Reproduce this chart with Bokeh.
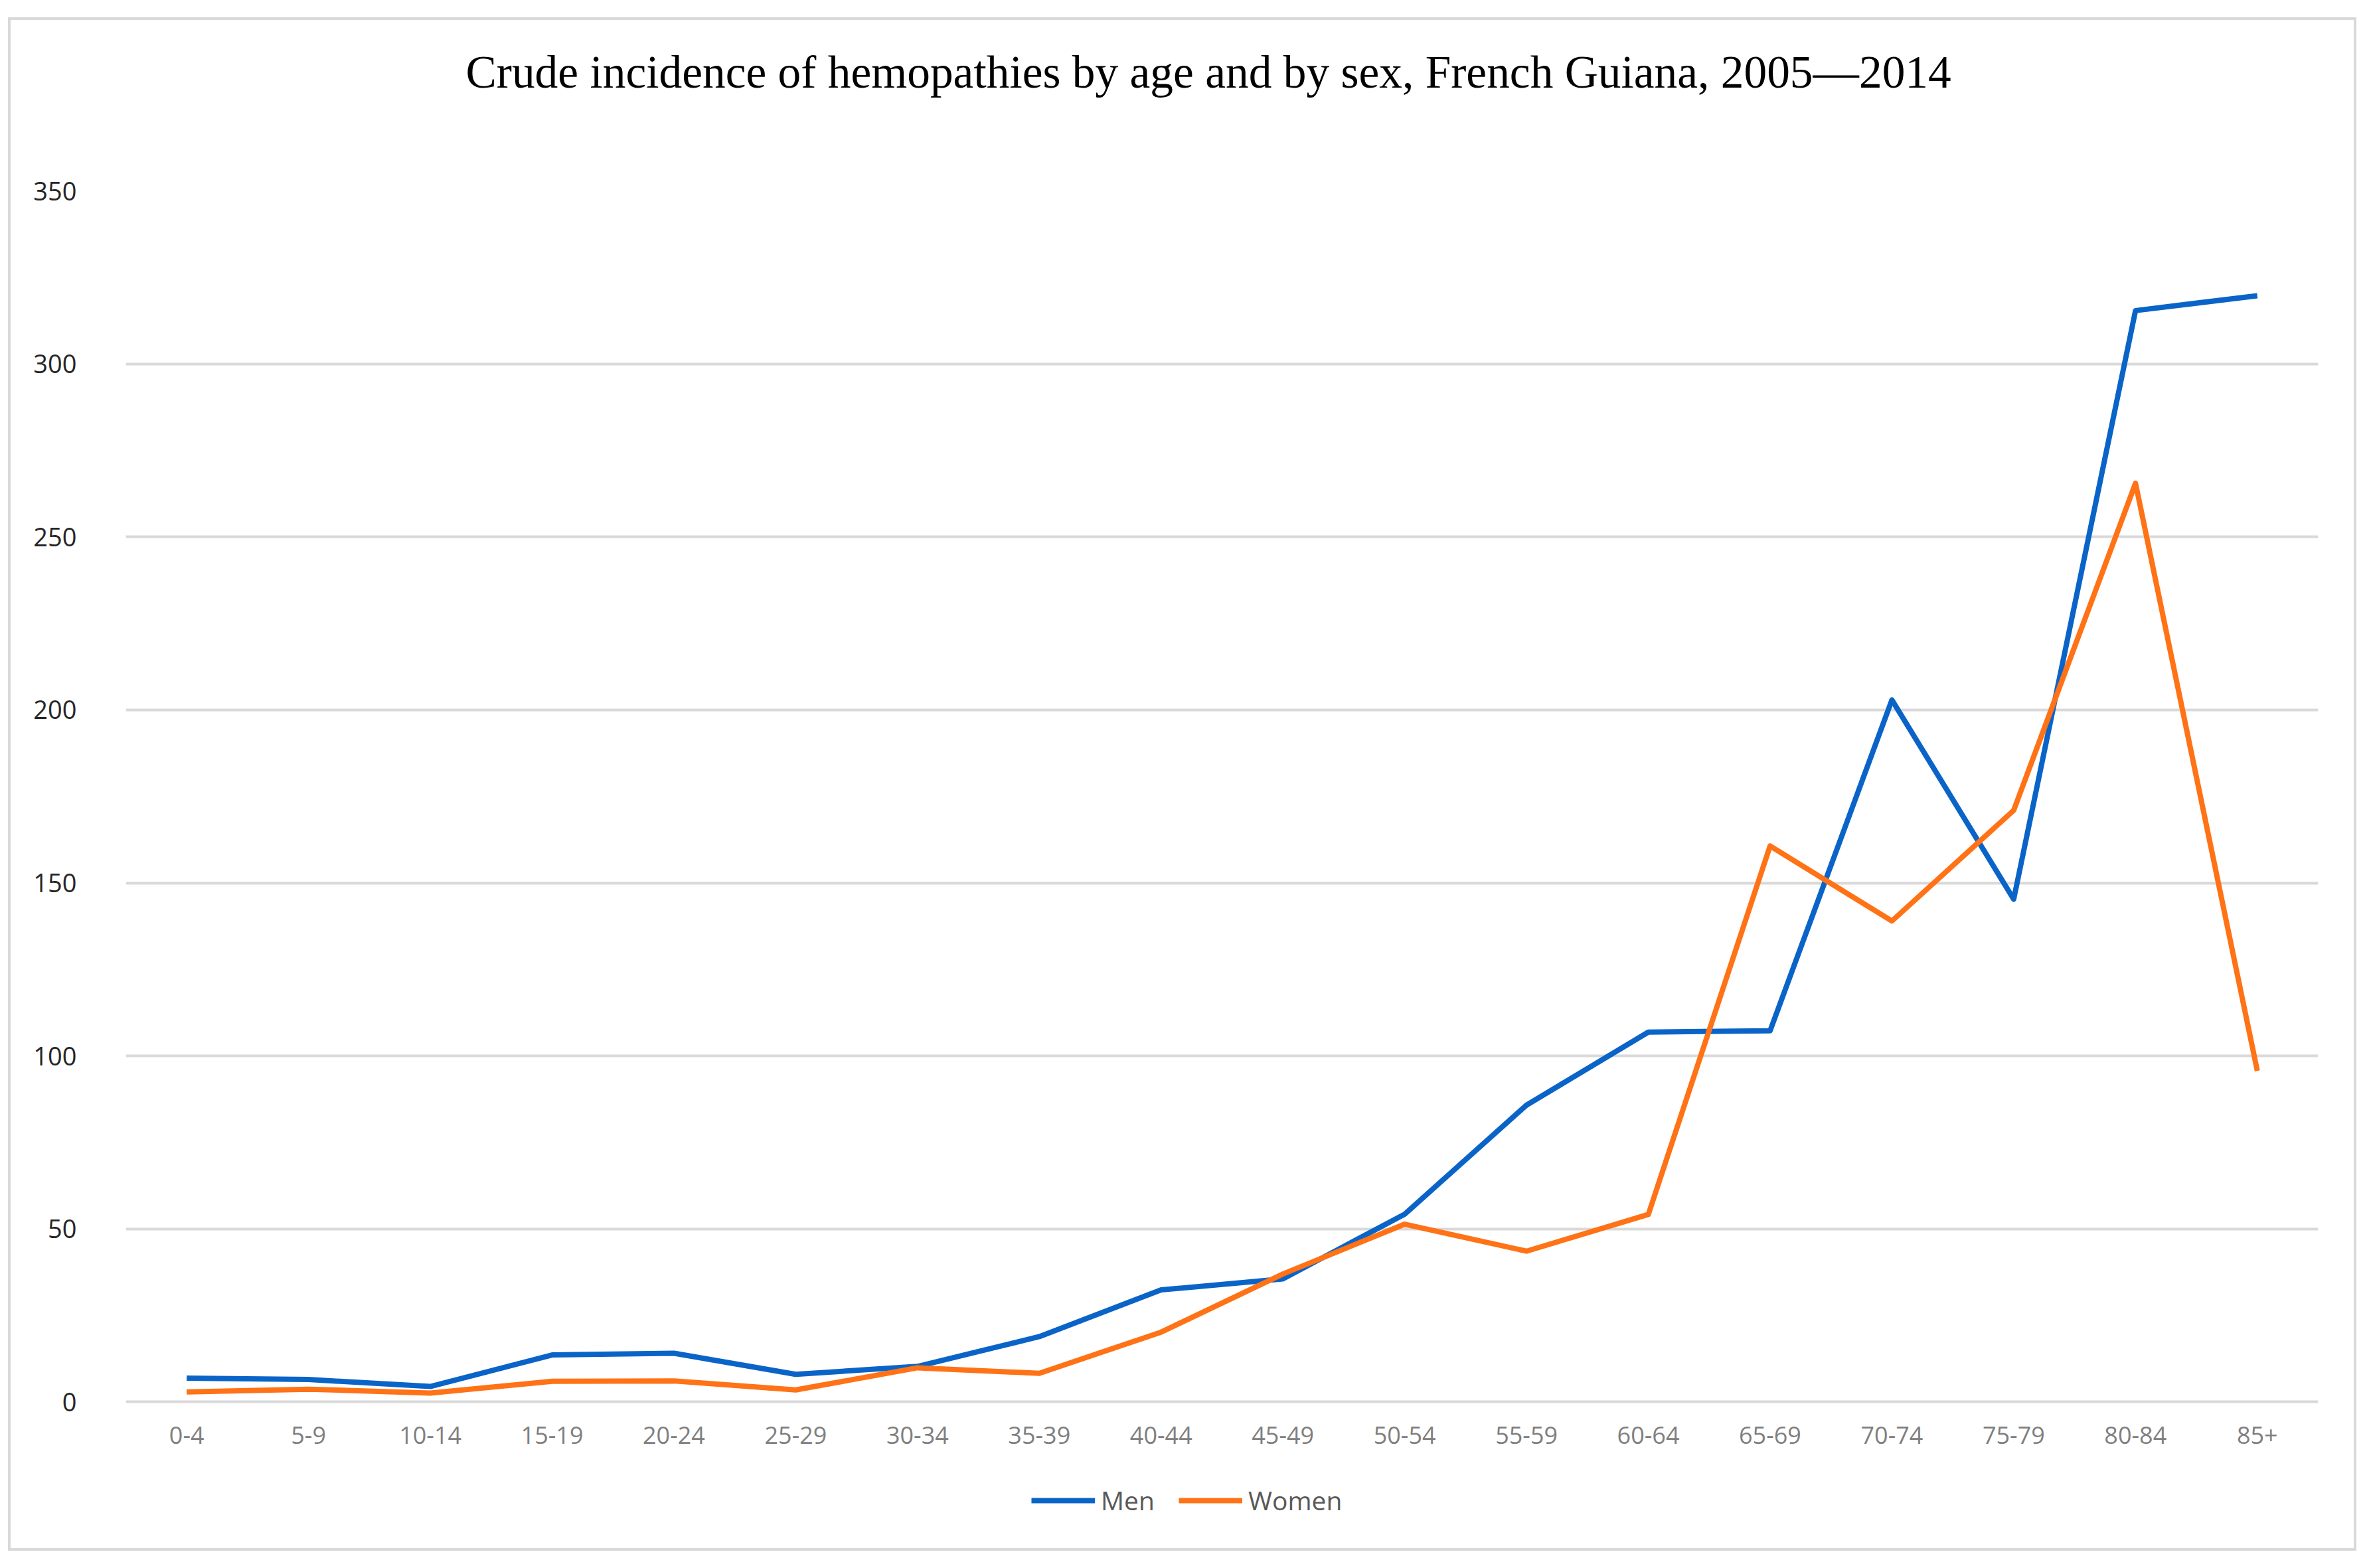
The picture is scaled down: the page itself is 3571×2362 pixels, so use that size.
from bokeh.plotting import figure
from bokeh.models import FactorRange, Range1d, FixedTicker, Legend, LegendItem, Title
from bokeh.embed import file_html
from bokeh.resources import INLINE

title_text = "Crude incidence of hemopathies by age and by sex, French Guiana, 2005\u20142014"
ages = ["0-4", "5-9", "10-14", "15-19", "20-24", "25-29", "30-34", "35-39", "40-44",
        "45-49", "50-54", "55-59", "60-64", "65-69", "70-74", "75-79", "80-84", "85+"]
men = [6.9, 6.5, 4.5, 13.6, 14.1, 8.0, 10.3, 18.9, 32.4, 35.6, 54.3, 85.8,
       106.9, 107.3, 202.9, 145.3, 315.4, 319.7]
women = [2.9, 3.7, 2.6, 6.0, 6.1, 3.5, 9.9, 8.3, 20.2, 37.0, 51.4, 43.6,
         54.2, 160.7, 139.0, 171.0, 265.5, 95.7]
y_ticks = [0, 50, 100, 150, 200, 250, 300, 350]

# extra room below zero (in data units) holds the category labels and the legend
y_bottom = -40
y_top = 350

p = figure(x_range=FactorRange(*ages), y_range=Range1d(y_bottom, y_top),
           width=3529, height=2302, output_backend="svg", toolbar_location=None,
           min_border_left=173, min_border_right=54, min_border_top=257, min_border_bottom=12,
           title=None)
p.styles = {"outline": "4px solid #d9d9d9", "transform": "translate(16px, 30px)"}
p.outline_line_color = None
p.background_fill_color = "white"
p.border_fill_color = "white"

# gap between the title and the plot area
gap = Title(text=" ", text_font_size="1px", text_color="#ffffff", standoff=138)
p.add_layout(gap, "above")
main_title = Title(text=title_text, text_font="Liberation Serif", text_font_size="69.4px",
                   text_font_style="normal", text_color="#000000", align="left",
                   offset=512, vertical_align="bottom", standoff=0)
p.add_layout(main_title, "above")

r_men = p.line(ages, men, line_color="#0a64c8", line_width=8, line_join="round")
r_women = p.line(ages, women, line_color="#ff7216", line_width=8, line_join="round")

p.yaxis.ticker = FixedTicker(ticks=y_ticks)
p.yaxis.axis_line_color = None
p.yaxis.major_tick_line_color = None
p.yaxis.minor_tick_line_color = None
p.yaxis.major_label_standoff = 68
p.yaxis.major_label_text_font = "Open Sans"
p.yaxis.major_label_text_font_size = "38px"
p.yaxis.major_label_text_color = "#262626"

p.xaxis.fixed_location = 0
p.xaxis.axis_line_color = None
p.xaxis.major_tick_line_color = None
p.xaxis.major_label_standoff = 31
p.xaxis.major_label_text_font = "Open Sans"
p.xaxis.major_label_text_font_size = "36px"
p.xaxis.major_label_text_color = "#7f7f7f"

p.xgrid.grid_line_color = None
p.ygrid.grid_line_color = "#d9d9d9"
p.ygrid.grid_line_width = 4

legend = Legend(items=[LegendItem(label="Men", renderers=[r_men]),
                       LegendItem(label="Women", renderers=[r_women])],
                orientation="horizontal", location=(1364, 34))
legend.label_text_font = "Open Sans"
legend.label_text_font_size = "39px"
legend.label_text_color = "#595959"
legend.glyph_width = 96
legend.glyph_height = 20
legend.label_standoff = 9
legend.spacing = 36
legend.padding = 0
legend.margin = 0
legend.border_line_color = None
legend.background_fill_alpha = 0
p.add_layout(legend, "center")

open("out.html", "w").write(file_html(p, INLINE))
